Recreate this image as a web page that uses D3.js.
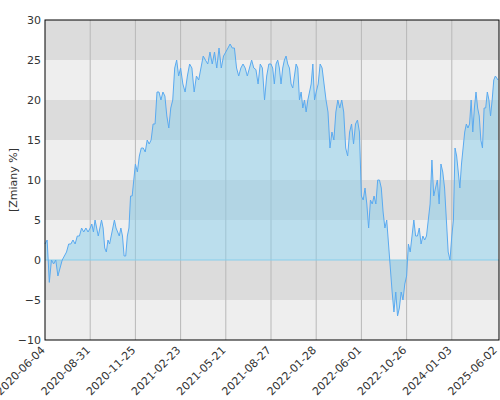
<!DOCTYPE html><html><head><meta charset="utf-8"><script src="https://cdn.jsdelivr.net/npm/d3@7"></script>
<style>body{margin:0;background:#fff}text{font-family:"DejaVu Sans",sans-serif;font-size:11px;fill:#333}</style></head><body><svg id="c" width="500" height="400"></svg>
<script>
const tickLabels=["2020-06-04","2020-08-31","2020-11-25","2021-02-23","2021-05-21","2021-08-27","2022-01-28","2022-06-01","2022-10-26","2024-01-03","2025-06-02"];
const seg1=[2,2.5,-2.8,0,-0.5,0,-2,-1,0,0.5,1,2,2,2.5,2,3,3,4,3.5,4,3.5];
const seg2=[4,4.5,3.5,5,4,3,4,5,4,1.5,1,2.5,2,3,4,5,4,3.5,3,4,3,0.5,0.5,3,4,8,8,10];
const seg3=[12,11,13,14,14,13.5,15,14.5,15,17,17,21,21,20,21,20.5,18,16.5,19,20,24,25,23];
const seg4=[24,22,21,23,24.5,24,21,23,22.5,24,25.5,25,24.5,26,24.5,26,24,26.5,24,25.5];
const seg5=[26,26.5,27,26.5,26.5,24,23,24,24.5,24,23,24,25,24,23.8,22,24.5,24,20,23,24.5];
const seg6=[24.5,24,22,24.5,25,24,22,24,25,25.5,24.5,24,22,21.5,23,24.5,24,20,21,19,20,18.5,20,21,22,24.5,20];
const seg7=[21,22,24.5,24,22,20,18.5,14,16,15,18.5,20,19,20,18.5,14,13,16,17,14.5,17,17.5,16];
const seg8=[8,7.5,9,7,4,7.5,7,8,7,10,10,9,6,4,5,2,-1,-4,-6.5,-4,-7,-6,-4,-5,-3];
const seg9=[-2,2,1,3,5,3,3,4,2,3,2.5,3,5,7,12.5,8,9,10,7,12,11,9,5,1,0];
const seg10=[3,5,14,13,11,9,12,14,16,17,16.5,17,20,16,19,21,19,18,15,14,19,19,21,20,18,20,22.5,23];
const segs=[seg1,seg2,seg3,seg4,seg5,seg6,seg7,seg8,seg9,seg10];
const data=[],tickIdx=[0];
segs.forEach(s=>{s.forEach(v=>data.push(v));tickIdx.push(data.length);});
data.push(22.5);
const L=45,R=499,T=20,B=340,last=497;
const svg=d3.select("#c");
const y=d3.scaleLinear().domain([-10,30]).range([B,T]);
const tickPx=tickIdx.map((d,i)=>L+(last-L)*i/10);
const x=d3.scaleLinear().domain(tickIdx.concat([data.length-1])).range(tickPx.concat([R]));
for(let v=-10;v<30;v+=5){svg.append("rect").attr("x",L).attr("width",R-L).attr("y",y(v+5)).attr("height",y(v)-y(v+5)).attr("fill",((v+10)/5)%2==0?"#eeeeee":"#dcdcdc");}
svg.selectAll(".vg").data(tickIdx.slice(1,10)).enter().append("line").attr("x1",d=>x(d)).attr("x2",d=>x(d)).attr("y1",T).attr("y2",B).attr("stroke","#b8b8b8");
svg.append("path").datum(data).attr("fill","rgba(135,206,235,0.5)").attr("d",d3.area().x((d,i)=>x(i)).y0(y(0)).y1(d=>y(d)));
svg.append("line").attr("x1",L).attr("x2",R).attr("y1",y(0)).attr("y2",y(0)).attr("stroke","#87ceeb");
svg.append("path").datum(data).attr("fill","none").attr("stroke","#5aaaf0").attr("stroke-width",1).attr("d",d3.line().x((d,i)=>x(i)).y(d=>y(d)));
svg.append("rect").attr("x",L).attr("y",T).attr("width",R-L).attr("height",B-T).attr("fill","none").attr("stroke","#000");
svg.append("g").attr("transform",`translate(${L},0)`).call(d3.axisLeft(y).tickValues(d3.range(-10,31,5)).tickSize(0).tickPadding(4)).call(g=>g.select(".domain").remove()).selectAll("text").style("font-size","11px").attr("fill","#333");
const xa=svg.append("g");
tickLabels.forEach((t,i)=>{xa.append("text").attr("transform",`translate(${tickPx[i]-2},${B+8}) rotate(-45)`).attr("text-anchor","end").attr("dy","0.35em").text(t);});
svg.append("text").attr("transform",`translate(17,${(T+B)/2}) rotate(-90)`).attr("text-anchor","middle").text("[Zmiany %]");
</script></body></html>
